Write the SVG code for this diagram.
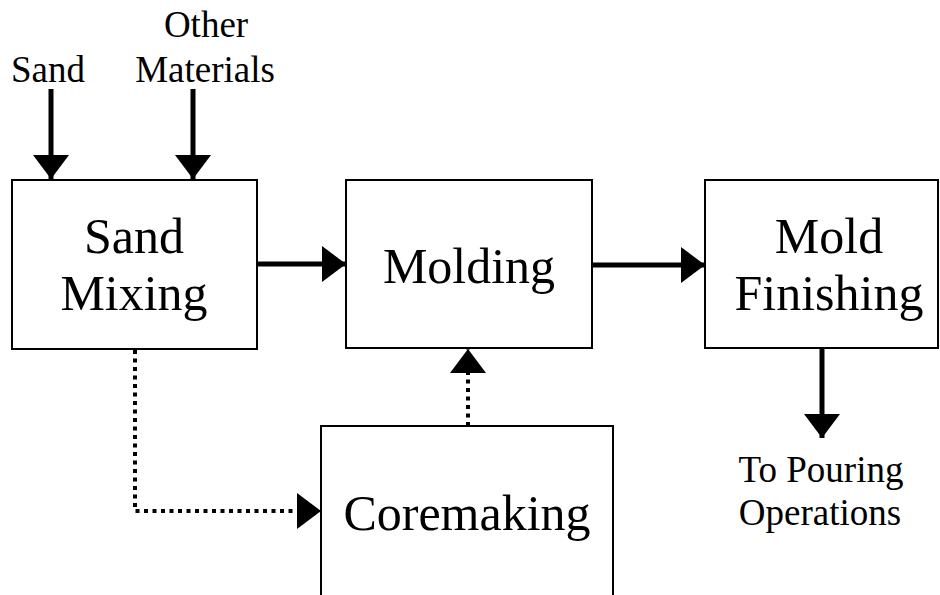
<svg xmlns="http://www.w3.org/2000/svg" width="940" height="595" viewBox="0 0 940 595">
<style>
.box{fill:#fff;stroke:#000;stroke-width:2}
.big{font-family:"Liberation Serif","Times New Roman",serif;font-size:50px;fill:#000;text-anchor:middle}
.small{font-family:"Liberation Serif","Times New Roman",serif;font-size:37px;fill:#000;text-anchor:middle}
.solid{stroke:#000;stroke-width:5;fill:none}
.dot{stroke:#000;stroke-width:4;fill:none;stroke-dasharray:4 4.5}
</style>
<defs>
<marker id="ah" markerUnits="userSpaceOnUse" markerWidth="24" markerHeight="36" refX="24" refY="18" orient="auto">
<polygon points="0,0 24,18 0,36" fill="#000"/>
</marker>
</defs>
<rect width="940" height="595" fill="#fff"/>
<g id="label-sand"><text class="small" x="48" y="82">Sand</text></g>
<g id="label-other"><text class="small" x="206" y="37">Other</text><text class="small" x="205" y="82">Materials</text></g>
<g id="sand-mixing"><rect class="box" x="12" y="180" width="245" height="169"/><text class="big" x="134" y="253">Sand</text><text class="big" x="134" y="310">Mixing</text></g>
<g id="molding"><rect class="box" x="346" y="180" width="246" height="168"/><text class="big" x="469" y="283">Molding</text></g>
<g id="mold-finishing"><rect class="box" x="705" y="180" width="233" height="168"/><text class="big" x="829" y="253">Mold</text><text class="big" x="829" y="310">Finishing</text></g>
<g id="coremaking"><rect class="box" x="321" y="426" width="292" height="170"/><text class="big" x="467" y="530">Coremaking</text></g>
<g id="label-pouring"><text class="small" x="821" y="482">To Pouring</text><text class="small" x="820" y="525">Operations</text></g>
<g id="connectors">
<line class="solid" x1="51" y1="89" x2="51" y2="179" marker-end="url(#ah)"/>
<line class="solid" x1="193" y1="89" x2="193" y2="179" marker-end="url(#ah)"/>
<line class="solid" x1="257" y1="264" x2="346" y2="264" marker-end="url(#ah)"/>
<line class="solid" x1="592" y1="265" x2="705" y2="265" marker-end="url(#ah)"/>
<line class="solid" x1="822" y1="348" x2="822" y2="438" marker-end="url(#ah)"/>
<polyline class="dot" points="135,350 135,511 321,511" marker-end="url(#ah)"/>
<line class="dot" x1="468" y1="426" x2="468" y2="349" marker-end="url(#ah)"/>
</g>
</svg>
